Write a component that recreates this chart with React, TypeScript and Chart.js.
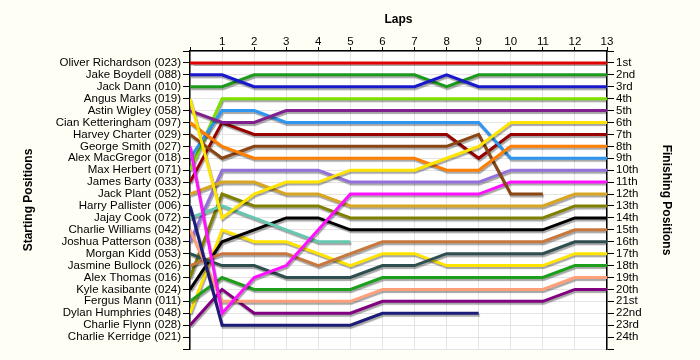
import React, { useEffect, useRef } from "react";
import { Chart, registerables } from "chart.js";

Chart.register(...registerables);

const laps = [0, 1, 2, 3, 4, 5, 6, 7, 8, 9, 10, 11, 12, 13];

const drivers = [
  "Oliver Richardson (023)", "Jake Boydell (088)", "Jack Dann (010)", "Angus Marks (019)",
  "Astin Wigley (058)", "Cian Ketteringham (097)", "Harvey Charter (029)", "George Smith (027)",
  "Alex MacGregor (018)", "Max Herbert (071)", "James Barty (033)", "Jack Plant (052)",
  "Harry Pallister (006)", "Jajay Cook (072)", "Charlie Williams (042)", "Joshua Patterson (038)",
  "Morgan Kidd (053)", "Jasmine Bullock (026)", "Alex Thomas (016)", "Kyle kasibante (024)",
  "Fergus Mann (011)", "Dylan Humphries (048)", "Charlie Flynn (028)", "Charlie Kerridge (021)",
];

const finishLabels = [
  "1st", "2nd", "3rd", "4th", "5th", "6th", "7th", "8th", "9th", "10th", "11th", "12th",
  "13th", "14th", "15th", "16th", "17th", "18th", "19th", "20th", "21st", "22nd", "23rd", "24th",
];

const oliverRichardson = [1, 1, 1, 1, 1, 1, 1, 1, 1, 1, 1, 1, 1, 1];
const jakeBoydell = [2, 2, 3, 3, 3, 3, 3, 3, 2, 3, 3, 3, 3, 3];
const jackDann = [3, 3, 2, 2, 2, 2, 2, 2, 3, 2, 2, 2, 2, 2];
const angusMarks = [4, 14, 12, 11, 11, 10, 10, 10, 9, 8, 6, 6, 6, 6];
const astinWigley = [5, 6, 6, 5, 5, 5, 5, 5, 5, 5, 5, 5, 5, 5];
const cianKetteringham = [6, 8, 9, 9, 9, 9, 9, 9, 10, 10, 8, 8, 8, 8];
const harveyCharter = [7, 9, 8, 8, 8, 8, 8, 8, 8, 7, 12, 12, null, null];
const georgeSmith = [8, 22, 19, 18, 15, 12, 12, 12, 12, 12, 11, 11, 11, 11];
const alexMacGregor = [9, 5, 5, 6, 6, 6, 6, 6, 6, 6, 9, 9, 9, 9];
const maxHerbert = [10, 4, 4, 4, 4, 4, 4, 4, 4, 4, 4, 4, 4, 4];
const jamesBarty = [11, 6, 7, 7, 7, 7, 7, 7, 7, 9, 7, 7, 7, 7];
const jackPlant = [12, 11, 11, 12, 12, 13, 13, 13, 13, 13, 13, 13, 12, 12];
const harryPallister = [13, 23, 23, 23, 23, 23, 22, 22, 22, 22, null, null, null, null];
const jajayCook = [14, 13, 14, 15, 16, 16, null, null, null, null, null, null, null, null];
const charlieWilliams = [15, 21, 21, 21, 21, 21, 20, 20, 20, 20, 20, 20, 19, 19];
const joshuaPatterson = [16, 10, 10, 10, 10, 11, 11, 11, 11, 11, 10, 10, 10, 10];
const morganKidd = [17, 18, 18, 19, 19, 19, 18, 18, 17, 17, 17, 17, 16, 16];
const jasmineBullock = [18, 17, 17, 17, 18, 17, 16, 16, 16, 16, 16, 16, 15, 15];
const alexThomas = [19, 12, 13, 13, 13, 14, 14, 14, 14, 14, 14, 14, 13, 13];
const kyleKasibante = [20, 16, 15, 14, 14, 15, 15, 15, 15, 15, 15, 15, 14, 14];
const fergusMann = [21, 19, 20, 20, 20, 20, 19, 19, 19, 19, 19, 19, 18, 18];
const dylanHumphries = [22, 15, 16, 16, 17, 18, 17, 17, 18, 18, 18, 18, 17, 17];
const charlieFlynn = [23, 20, 22, 22, 22, 22, 21, 21, 21, 21, 21, 21, 20, 20];

const series: (number | null)[][] = [
  oliverRichardson, jakeBoydell, jackDann, angusMarks, astinWigley, cianKetteringham,
  harveyCharter, georgeSmith, alexMacGregor, maxHerbert, jamesBarty, jackPlant,
  harryPallister, jajayCook, charlieWilliams, joshuaPatterson, morganKidd, jasmineBullock,
  alexThomas, kyleKasibante, fergusMann, dylanHumphries, charlieFlynn,
];

const colors = [
  "#e00000", "#1818cc", "#1c9a1c", "#ffe400", "#80208f", "#ff8000",
  "#8b4513", "#ff10ff", "#2e96f0", "#7ee000", "#990000", "#daa520",
  "#1c1c78", "#66c8b0", "#ffa07a", "#9370db", "#2f4f4f", "#c8783c",
  "#808000", "#000000", "#1ca01c", "#ffe400", "#800080",
];

const shadowPlugin = {
  id: "lineShadow",
  beforeDatasetDraw(chart: any) {
    const ctx = chart.ctx;
    ctx.save();
    ctx.shadowColor = "rgba(0,0,0,0.35)";
    ctx.shadowOffsetX = 1;
    ctx.shadowOffsetY = 2;
    ctx.shadowBlur = 1;
  },
  afterDatasetDraw(chart: any) {
    chart.ctx.restore();
  },
};

const bgPlugin = {
  id: "bg",
  beforeDraw(chart: any) {
    const { ctx, chartArea, width, height } = chart;
    ctx.save();
    ctx.fillStyle = "#fffef4";
    ctx.fillRect(0, 0, width, height);
    ctx.fillStyle = "#ffffff";
    ctx.fillRect(chartArea.left, chartArea.top, chartArea.right - chartArea.left, chartArea.bottom - chartArea.top);
    ctx.restore();
  },
};

export default function App() {
  const ref = useRef<HTMLCanvasElement | null>(null);

  useEffect(() => {
    if (!ref.current) return;
    const font = { family: '"Liberation Sans", Arial, sans-serif', size: 11.5 };
    const titleFont = { family: '"Liberation Sans", Arial, sans-serif', size: 12, weight: "bold" as const, lineHeight: 1.2 };
    const chart = new Chart(ref.current, {
      type: "line",
      data: {
        datasets: series.map((vals, i) => ({
          label: drivers[i],
          data: vals.map((v, j) => ({ x: laps[j], y: v })),
          borderColor: colors[i],
          backgroundColor: colors[i],
          borderWidth: 3,
          pointRadius: 0,
          tension: 0,
          fill: false,
          spanGaps: false,
        })),
      },
      options: {
        animation: false,
        responsive: false,
        maintainAspectRatio: false,
        layout: { padding: { left: 0, right: 0, top: 0, bottom: 11 } },
        plugins: { legend: { display: false }, tooltip: { enabled: false } },
        scales: {
          x: {
            type: "linear",
            position: "top",
            min: 0,
            max: 13,
            afterFit: (s: any) => { s.height = 51; },
            ticks: {
              stepSize: 1,
              autoSkip: false,
              color: "#000",
              font,
              padding: -2,
              maxRotation: 0,
              callback: (v: any) => (v === 0 ? "" : String(v)),
            },
            grid: { color: "#e4e4e4", tickColor: "#000", tickLength: 4, lineWidth: 1 },
            border: { color: "#000", width: 1.5 },
            title: { display: true, text: "Laps", color: "#000", font: titleFont, padding: { top: 12, bottom: 0 } },
          },
          y: {
            type: "linear",
            position: "left",
            reverse: true,
            min: 0,
            max: 25,
            afterFit: (s: any) => { s.width = 190; },
            ticks: {
              stepSize: 1,
              autoSkip: false,
              color: "#000",
              font,
              padding: 2,
              callback: (v: any) => (v >= 1 && v <= 24 ? drivers[v - 1] : ""),
            },
            grid: { color: "#e4e4e4", tickColor: "#000", tickLength: 7, lineWidth: 1 },
            border: { color: "#000", width: 1.5 },
            title: { display: true, text: "Starting Positions", color: "#000", font: titleFont, padding: { top: 21, bottom: 0 } },
          },
          y2: {
            type: "linear",
            position: "right",
            reverse: true,
            min: 0,
            max: 25,
            afterFit: (s: any) => { s.width = 93; },
            ticks: {
              stepSize: 1,
              autoSkip: false,
              color: "#000",
              font,
              padding: 2,
              callback: (v: any) => (v >= 1 && v <= 24 ? finishLabels[v - 1] : ""),
            },
            grid: { drawOnChartArea: false, tickColor: "#000", tickLength: 7 },
            border: { color: "#000", width: 1.5 },
            title: { display: true, text: "Finishing Positions", color: "#000", font: titleFont, padding: { top: 26, bottom: 0 } },
          },
        },
      },
      plugins: [bgPlugin, shadowPlugin],
    });
    return () => chart.destroy();
  }, []);

  return (
    <div style={{ position: "absolute", left: 0, top: 0, width: 700, height: 360 }}>
      <canvas ref={ref} width={700} height={360} style={{ display: "block" }} />
    </div>
  );
}
